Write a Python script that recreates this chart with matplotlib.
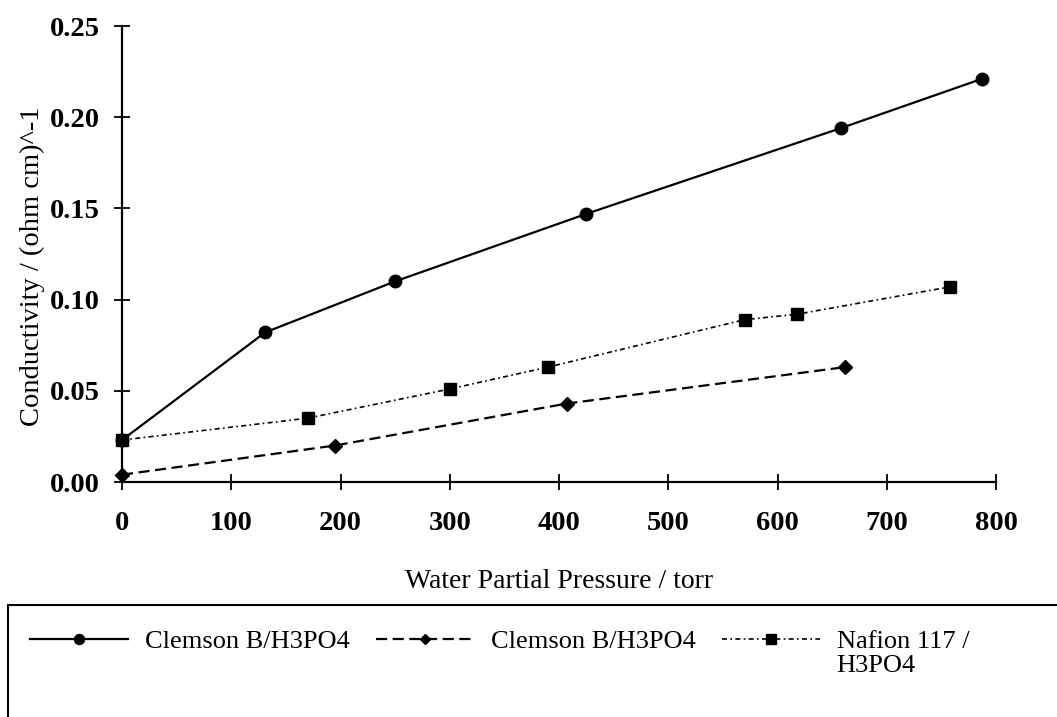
import matplotlib
matplotlib.use("Agg")
import matplotlib.pyplot as plt
from matplotlib.patches import Rectangle

# ---- data ----
x_circle = [0, 131, 250, 425, 658, 787]
y_circle = [0.023, 0.082, 0.110, 0.147, 0.194, 0.221]

x_diamond = [0, 195, 407, 662]
y_diamond = [0.004, 0.020, 0.043, 0.063]

x_square = [0, 170, 300, 390, 570, 618, 758]
y_square = [0.023, 0.035, 0.051, 0.063, 0.089, 0.092, 0.107]

labels = ["Clemson B/H3PO4", "Clemson B/H3PO4", "Nafion 117 /"]
label3_line2 = "H3PO4"
x_ticks = [0, 100, 200, 300, 400, 500, 600, 700, 800]
y_ticks = [0.00, 0.05, 0.10, 0.15, 0.20, 0.25]
y_ticklabels = ["0.00", "0.05", "0.10", "0.15", "0.20", "0.25"]

plt.rcParams['font.family'] = ['Liberation Serif', 'DejaVu Serif']

fig = plt.figure(figsize=(10.57, 7.17), dpi=100)
ax = fig.add_axes([122/1057, 1-482/717, (996-122)/1057, (482-26)/717])

l1, = ax.plot(x_circle, y_circle, color='black', lw=1.6, ls='-',
              marker='o', ms=9, label=labels[0])
l2, = ax.plot(x_diamond, y_diamond, color='black', lw=1.6, ls=(0, (5, 2.5)),
              marker='D', ms=7, label=labels[1])
l3, = ax.plot(x_square, y_square, color='black', lw=1.2, ls=(0, (3, 2, 1, 2)),
              marker='s', ms=9, label=labels[2])

ax.set_xlim(0, 800)
ax.set_ylim(0, 0.25)
ax.set_xticks(x_ticks)
ax.set_xticklabels([str(v) for v in x_ticks], fontweight='bold', fontsize=20.5)
ax.set_yticks(y_ticks)
ax.set_yticklabels(y_ticklabels, fontweight='bold', fontsize=20.5)
ax.tick_params(axis='x', direction='inout', length=12, width=1.3, pad=15)
ax.tick_params(axis='y', direction='inout', length=12, width=1.3, pad=10)
for s in ['top', 'right']:
    ax.spines[s].set_visible(False)
for s in ['left', 'bottom']:
    ax.spines[s].set_linewidth(1.6)
for l in [l1, l2, l3]:
    l.set_clip_on(False)

ax.set_xlabel("Water Partial Pressure / torr", fontsize=20)
ax.xaxis.set_label_coords(0.5, -(582-482)/456, transform=ax.transAxes)
ax.set_ylabel("Conductivity / (ohm cm)^-1", fontsize=20.5)
ax.yaxis.set_label_coords(-(122-32)/874, (482-266)/456, transform=ax.transAxes)
ax.yaxis.label.set_verticalalignment('center')
ax.xaxis.label.set_verticalalignment('center')

# legend box
fig.patches.append(Rectangle((8/1057, -0.05), 1.1, 0.05 + (717-605)/717,
                             transform=fig.transFigure, fill=False,
                             edgecolor='black', lw=1.5))
leg = fig.legend(handles=[l1, l2, l3], loc='upper left',
                 bbox_to_anchor=(30/1057, 1-630/717), ncol=3, frameon=False,
                 fontsize=19, handlelength=3.7, handletextpad=0.65,
                 columnspacing=1.0, borderaxespad=0, borderpad=0,
                 markerscale=0.8)
fig.canvas.draw()
t3 = leg.get_texts()[2]
bb = t3.get_window_extent()
fig.text(bb.x0 / 1057, (bb.y0 - 24) / 717, label3_line2, fontsize=19,
         ha='left', va='bottom')

fig.savefig("out.png", dpi=100)
